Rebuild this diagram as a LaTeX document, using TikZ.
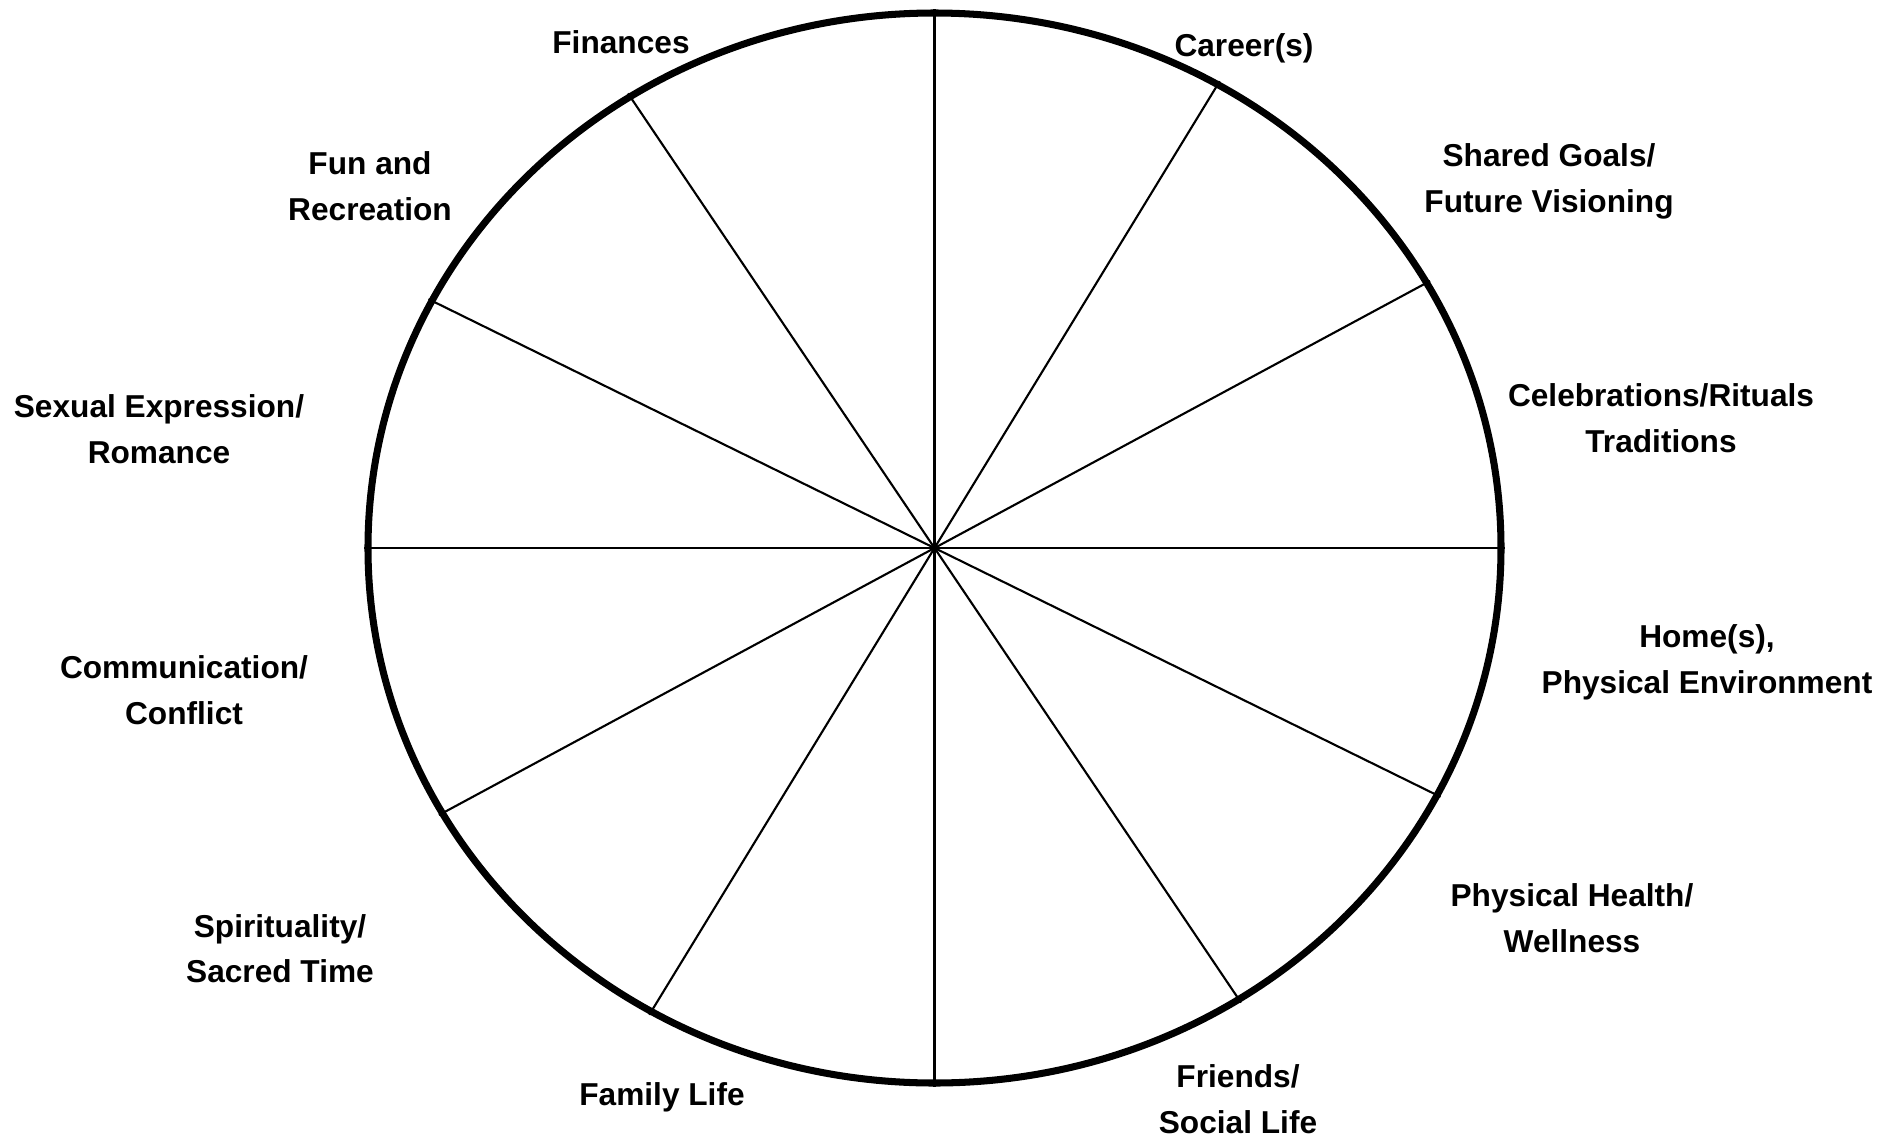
\documentclass[tikz,border=0pt]{standalone}
\usepackage{fontspec}
\setmainfont{Liberation Sans}
\begin{document}
\begin{tikzpicture}[x=0.01cm,y=-0.01cm,
    lbl/.style={font=\fontsize{9}{12.8}\selectfont\bfseries, align=center, anchor=base, inner sep=0pt},
    rim/.style={line width=2pt},
    spoke/.style={line width=0.6pt}]

    % wheel size (pixels of the page)
    \def\cx{934.5}
    \def\cy{548}
    \def\rx{566.5}
    \def\ry{535}

    \useasboundingbox (0,0) rectangle (1890,1136);

    \coordinate (hub) at (\cx,\cy);

    % spokes, roughly every 30 degrees
    \foreach \a [count=\i] in {0,29.7,60,90,122.5,152.5,180,209.7,240,270,302.5,332.5}
    {
        \coordinate (rim\i) at ({\cx+(\rx+4)*cos(\a)},{\cy-(\ry+4)*sin(\a)});
        \draw[spoke] (hub) -- (rim\i);
    }

    % outer ring
    \draw[rim] (hub) ellipse ({\rx} and {\ry});

    % labels, top going clockwise (anchor = baseline of last line)
    \node[lbl] (finances) at (621,53) {Finances};
    \node[lbl] (career) at (1244,56) {Career(s)};
    \node[lbl] (goals) at (1549,212) {Shared Goals/\\Future Visioning};
    \node[lbl] (rituals) at (1661,452) {Celebrations/Rituals\\Traditions};
    \node[lbl] (home) at (1707,693) {Home(s),\\Physical Environment};
    \node[lbl] (health) at (1572,952) {Physical Health/\\Wellness};
    \node[lbl] (friends) at (1238,1133) {Friends/\\Social Life};
    \node[lbl] (family) at (662,1105) {Family Life};
    \node[lbl] (spirit) at (280,982) {Spirituality/\\Sacred Time};
    \node[lbl] (talk) at (184,724) {Communication/\\Conflict};
    \node[lbl] (romance) at (159,463) {Sexual Expression/\\Romance};
    \node[lbl] (fun) at (370,220) {Fun and\\Recreation};
\end{tikzpicture}
\end{document}
